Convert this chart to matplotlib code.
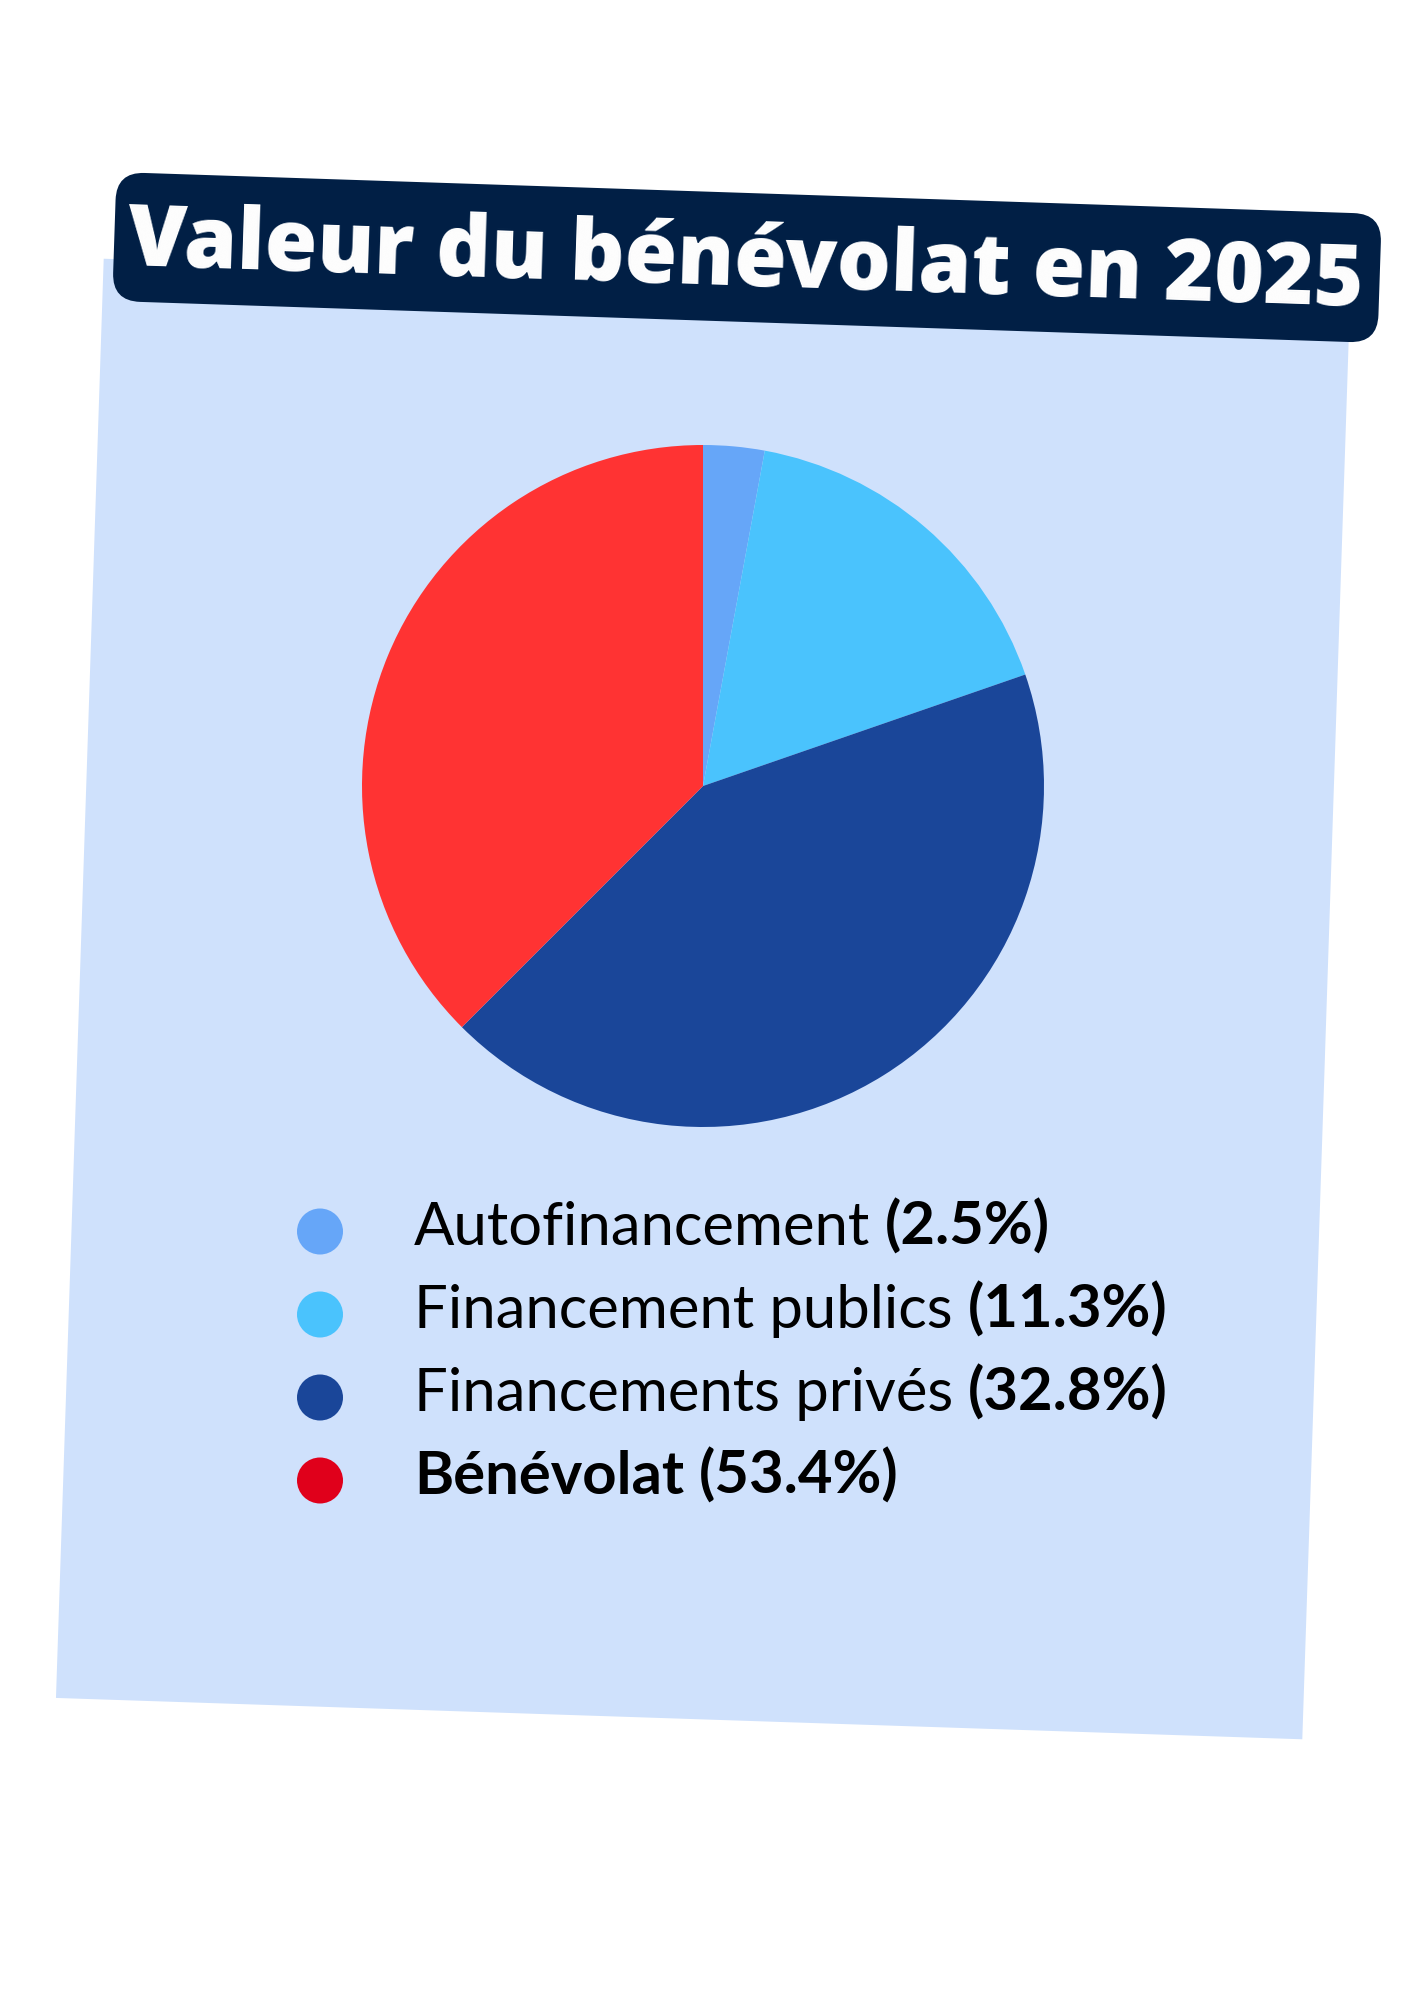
import matplotlib
matplotlib.use("Agg")
import matplotlib.pyplot as plt
from matplotlib.patches import FancyBboxPatch, Rectangle, Circle
from matplotlib.transforms import Affine2D

# ---------------- data ----------------
title = "Valeur du bénévolat en 2025"
categories = ["Autofinancement", "Financement publics", "Financements privés", "Bénévolat"]
legend_pct = ["(2.5%)", "(11.3%)", "(32.8%)", "(53.4%)"]
pie_values = [2.9, 16.8, 42.8, 37.5]          # slice sizes as drawn in the picture
pie_colors = ["#66a6f8", "#4ac3fd", "#1a4699", "#ff3333"]
dot_colors = ["#66a6f8", "#4ac3fd", "#1a4699", "#e0001b"]
label_bold = [False, False, False, True]

# ---------------- layout ----------------
W, H = 1414, 2000
TITLE_FONT = ["Open Sans", "DejaVu Sans"]
TEXT_FONT = ["Lato", "DejaVu Sans"]

fig = plt.figure(figsize=(W / 100, H / 100), dpi=100)
fig.patch.set_facecolor("white")
bg = fig.add_axes([0, 0, 1, 1])
bg.set_xlim(0, W)
bg.set_ylim(H, 0)
bg.axis("off")
renderer = fig.canvas.get_renderer()

ANGLE = 1.9  # degrees, clockwise on screen

# light blue tilted panel
pcx, pcy, pw, ph = 703, 999, 1247, 1440
panel = Rectangle((pcx - pw / 2, pcy - ph / 2), pw, ph, facecolor="#cfe1fc",
                  edgecolor="none",
                  transform=Affine2D().rotate_deg_around(pcx, pcy, ANGLE) + bg.transData,
                  zorder=1)
bg.add_patch(panel)

# dark title banner
bcx, bcy, bw, bh = 747, 257.5, 1266, 129
banner = FancyBboxPatch((bcx - bw / 2, bcy - bh / 2), bw, bh,
                        boxstyle="round,pad=0,rounding_size=28",
                        facecolor="#011f45", edgecolor="none",
                        transform=Affine2D().rotate_deg_around(bcx, bcy, ANGLE) + bg.transData,
                        zorder=2)
bg.add_patch(banner)


def text_width(s, fs, fam, weight):
    t = bg.text(0, 0, s, fontsize=fs, family=fam, weight=weight)
    w = t.get_window_extent(renderer).width
    t.remove()
    return w


# title fitted to the banner width
target_title_w = 1236
tfs = 60
tfs = tfs * target_title_w / text_width(title, tfs, TITLE_FONT, 800)
bg.text(745, 263, title, fontsize=tfs, family=TITLE_FONT, weight=800,
        color="white", ha="center", va="center", rotation=-ANGLE,
        rotation_mode="anchor", zorder=3)

# pie
pr = 341
pcx_pie, pcy_pie = 703, 786
pax = fig.add_axes([(pcx_pie - pr) / W, 1 - (pcy_pie + pr) / H, 2 * pr / W, 2 * pr / H])
pax.pie(pie_values, colors=pie_colors, startangle=90, counterclock=False,
        radius=1, wedgeprops=dict(linewidth=0))
pax.set_xlim(-1, 1)
pax.set_ylim(-1, 1)
pax.set_aspect("equal")
pax.axis("off")

# legend
x_dot, x_text = 320, 414
base0, step = 1245, 83
lfs = 40
row_w = (text_width(categories[1], lfs, TEXT_FONT, "normal")
         + 0.25 * lfs * 100 / 72
         + text_width(legend_pct[1], lfs, TEXT_FONT, "bold"))
lfs = lfs * 752 / row_w
gap = 0.25 * lfs * 100 / 72

for i, (cat, pct) in enumerate(zip(categories, legend_pct)):
    y = base0 + i * step
    bg.add_patch(Circle((x_dot, y - 13.5), 23, facecolor=dot_colors[i],
                        edgecolor="none", zorder=3))
    w1 = "bold" if label_bold[i] else "normal"
    t1 = bg.text(x_text, y, cat, fontsize=lfs, family=TEXT_FONT, weight=w1,
                 color="black", ha="left", va="baseline", zorder=3)
    x_end = t1.get_window_extent(renderer).x1
    bg.text(x_end + gap, y, pct, fontsize=lfs, family=TEXT_FONT, weight="bold",
            color="black", ha="left", va="baseline", zorder=3)

fig.savefig("out.png", dpi=100, facecolor="white")
